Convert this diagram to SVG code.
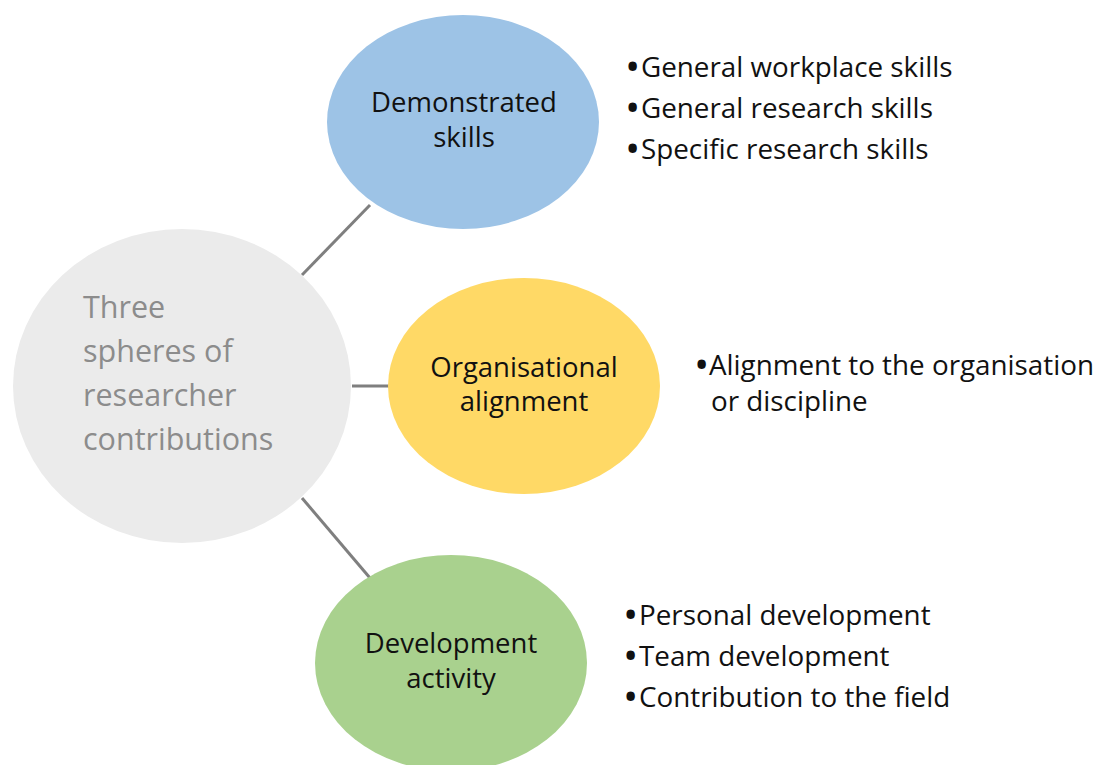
<svg xmlns="http://www.w3.org/2000/svg" width="1103" height="765" viewBox="0 0 1103 765">
<style>
.lbl{font-family:"Open Sans","Liberation Sans",sans-serif;font-size:27.5px;fill:#111;text-anchor:middle}
.ctr{font-family:"Open Sans","Liberation Sans",sans-serif;font-size:30.5px;fill:#8c8c8c}
.bul{font-family:"Open Sans","Liberation Sans",sans-serif;font-size:27.8px;fill:#111}
.dot{font-size:30px;font-weight:bold}
.conn{stroke:#7f7f7f;stroke-width:3;fill:none}
</style>
<rect width="1103" height="765" fill="#fff"/>
<g id="connectors">
<line class="conn" x1="302" y1="275" x2="370" y2="205"/>
<line class="conn" x1="352" y1="386" x2="389" y2="386"/>
<line class="conn" x1="302" y1="498" x2="370" y2="578"/>
</g>
<g id="center">
<ellipse cx="182" cy="386" rx="169" ry="157" fill="#ebebeb"/>
<text class="ctr" x="83" y="318">Three</text>
<text class="ctr" x="83" y="362">spheres of</text>
<text class="ctr" x="83" y="406">researcher</text>
<text class="ctr" x="83" y="450">contributions</text>
</g>
<g id="demonstrated">
<ellipse cx="463" cy="122" rx="136" ry="107" fill="#9dc3e6"/>
<text class="lbl" x="464" y="112">Demonstrated<tspan x="464" dy="35">skills</tspan></text>
</g>
<g id="organisational">
<ellipse cx="524" cy="386" rx="136" ry="108" fill="#ffd966"/>
<text class="lbl" x="524" y="377">Organisational<tspan x="524" dy="34">alignment</tspan></text>
</g>
<g id="development">
<ellipse cx="451" cy="663" rx="136" ry="108" fill="#a9d18e"/>
<text class="lbl" x="451" y="653">Development<tspan x="451" dy="35">activity</tspan></text>
</g>
<g id="skills-list">
<text class="bul" x="627" y="77"><tspan class="dot">•</tspan><tspan x="641">General workplace skills</tspan></text>
<text class="bul" x="627" y="118"><tspan class="dot">•</tspan><tspan x="641">General research skills</tspan></text>
<text class="bul" x="627" y="159"><tspan class="dot">•</tspan><tspan x="641">Specific research skills</tspan></text>
</g>
<g id="alignment-list">
<text class="bul" x="696" y="375"><tspan class="dot">•</tspan><tspan x="709">Alignment to the organisation</tspan></text>
<text class="bul" x="711" y="411">or discipline</text>
</g>
<g id="development-list">
<text class="bul" x="625" y="625"><tspan class="dot">•</tspan><tspan x="639">Personal development</tspan></text>
<text class="bul" x="625" y="666"><tspan class="dot">•</tspan><tspan x="639">Team development</tspan></text>
<text class="bul" x="625" y="707"><tspan class="dot">•</tspan><tspan x="639">Contribution to the field</tspan></text>
</g>
</svg>
